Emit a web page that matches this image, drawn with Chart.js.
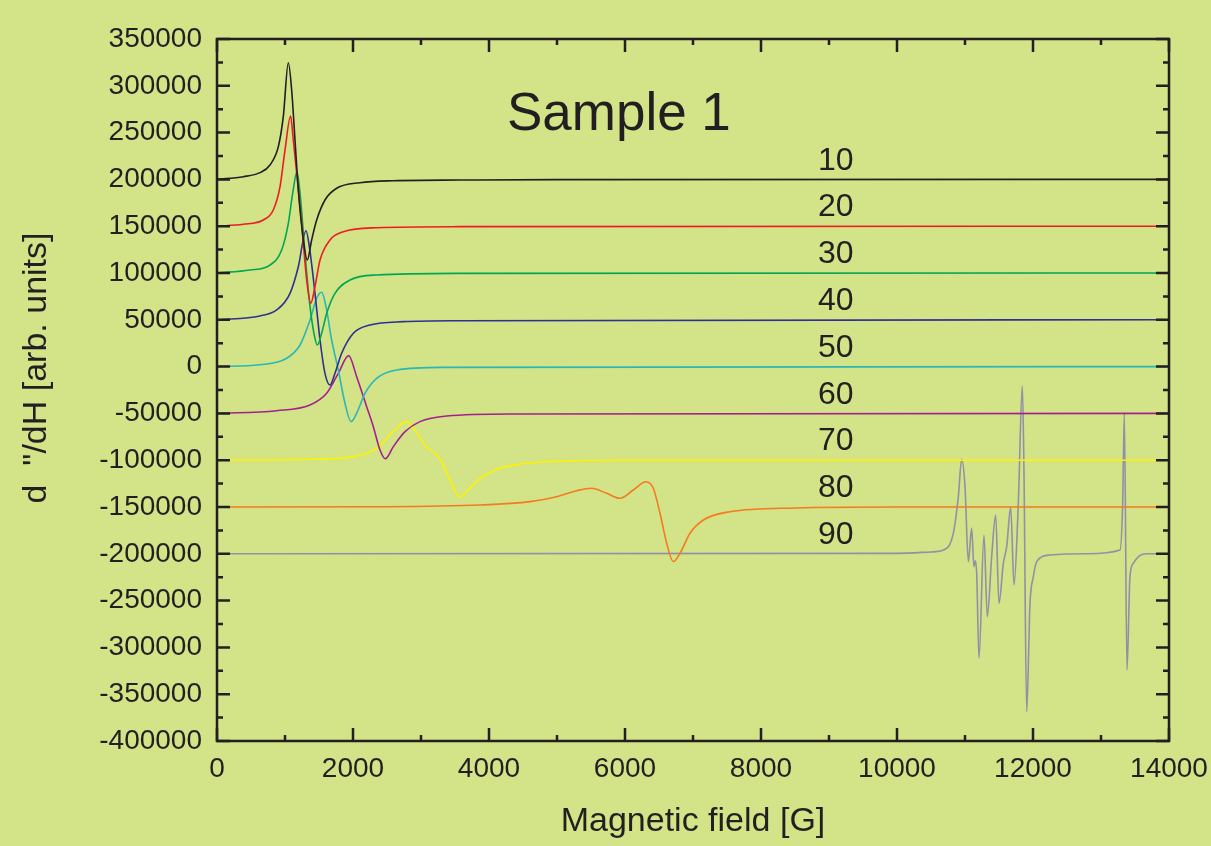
<!DOCTYPE html>
<html>
<head>
<meta charset="utf-8">
<script src="https://cdn.jsdelivr.net/npm/chart.js@4.4.1/dist/chart.umd.min.js"></script>
<style>
  html, body { margin: 0; padding: 0; background: #d3e388; }
  canvas { display: block; }
</style>
</head>
<body>
<canvas id="myChart" width="1211" height="846"></canvas>
<script>
// series names and their baselines (offsets)
const seriesLabels = ['10', '20', '30', '40', '50', '60', '70', '80', '90'];
const baselines = [200000, 150000, 100000, 50000, 0, -50000, -100000, -150000, -200000];

const field10 = [0, 387, 632, 779, 902, 975, 1049, 1098, 1147, 1196, 1270, 1328, 1392, 1466, 1588, 1760, 2103, 2593, 3573, 5000, 14000];
const signal10 = [200100, 202900, 207200, 215400, 235000, 267000, 324700, 295500, 242100, 188700, 135300, 113900, 135300, 156600, 178000, 190500, 196500, 198600, 199300, 199800, 200000];

const field20 = [0, 387, 681, 828, 927, 1000, 1083, 1122, 1172, 1245, 1319, 1378, 1441, 1515, 1662, 1858, 2348, 3573, 14000];
const signal20 = [150000, 152000, 156600, 167300, 192200, 231400, 267700, 242100, 206500, 153100, 92500, 67600, 85400, 113900, 135300, 144100, 148400, 149500, 150000];

const field30 = [0, 485, 779, 951, 1049, 1113, 1176, 1221, 1294, 1368, 1426, 1475, 1539, 1613, 1735, 1956, 2348, 3573, 14000];
const signal30 = [100000, 103200, 108500, 124600, 153100, 185100, 208200, 185100, 121000, 64000, 35600, 23000, 35600, 56900, 78300, 92500, 97900, 99600, 100000];

const field40 = [0, 632, 877, 1074, 1196, 1309, 1358, 1441, 1515, 1588, 1662, 1735, 1833, 2005, 2250, 2740, 3573, 14000];
const signal40 = [50000, 54100, 60500, 78300, 106700, 145200, 128100, 78300, 28400, -7200, -19700, -7200, 14200, 35600, 44400, 48000, 49000, 50000];

const field50 = [0, 632, 1025, 1221, 1368, 1466, 1539, 1603, 1686, 1784, 1882, 1971, 2054, 2176, 2348, 2643, 3328, 14000];
const signal50 = [0, 2000, 8900, 23100, 49800, 73000, 79400, 64000, 28400, -3600, -39200, -58800, -49900, -28500, -12500, -3600, -800, 0];

const field60 = [0, 877, 1368, 1613, 1784, 1936, 2054, 2201, 2299, 2397, 2475, 2593, 2765, 2985, 3378, 4357, 14000];
const signal60 = [-50000, -47100, -41000, -28500, -7200, 11700, -10800, -42800, -64200, -89100, -98500, -85500, -69500, -58800, -52800, -50600, -50000];

const field70 = [0, 1368, 2005, 2348, 2593, 2790, 2930, 3084, 3200, 3300, 3402, 3573, 3721, 3868, 4113, 4456, 5093, 6000, 14000];
const signal70 = [-100000, -99000, -96200, -87300, -69500, -58800, -70000, -86500, -92000, -101000, -117600, -139000, -130000, -119400, -109700, -104100, -100900, -100000, -100000];

const field80 = [0, 2400, 3868, 4603, 4995, 5290, 5510, 5731, 5926, 6122, 6309, 6416, 6515, 6613, 6710, 6809, 6956, 7152, 7544, 8500, 10000, 14000];
const signal80 = [-150000, -149700, -147900, -144300, -139000, -132600, -130000, -135400, -140700, -131800, -123000, -130000, -156700, -188800, -208400, -199500, -178100, -163900, -155000, -151000, -150000, -150000];

const field90 = [0, 10000, 10500, 10681, 10828, 10902, 10951, 11000, 11049, 11098, 11132, 11152, 11172, 11206, 11279, 11328, 11392, 11451, 11500, 11564, 11613, 11672, 11721, 11784, 11843, 11867, 11907, 11956, 12005, 12054, 12250, 12800, 13279, 13319, 13343, 13382, 13426, 13476, 13570, 13672, 14000];
const signal90 = [-200000, -199500, -198000, -196000, -178100, -139000, -99000, -128300, -208400, -172800, -213800, -207400, -220800, -311600, -180000, -267200, -203100, -158500, -252900, -210000, -192400, -150300, -233300, -146100, -20700, -110500, -368700, -252900, -224500, -208400, -201300, -200000, -196000, -145700, -50000, -324000, -224500, -210000, -202000, -200000, -200000];

const fields = [field10, field20, field30, field40, field50, field60, field70, field80, field90];
const signals = [signal10, signal20, signal30, signal40, signal50, signal60, signal70, signal80, signal90];
const colors = ['#231f20', '#ed1c24', '#00a651', '#2e3192', '#2bb7b5', '#a3218e', '#fff200', '#f47b20', '#9090a6'];

const ink = '#231f20';
const fontFamily = "'Liberation Sans', Arial, sans-serif";

// frame with inward ticks, sample title, series labels, y title
const decorations = {
  id: 'decorations',
  afterDatasetsDraw(chart) {
    const { ctx, chartArea: a, scales: { x, y } } = chart;
    ctx.save();
    ctx.strokeStyle = ink;
    ctx.lineWidth = 2.5;
    ctx.strokeRect(a.left, a.top, a.right - a.left, a.bottom - a.top);
    ctx.beginPath();
    for (let v = 0; v <= 14000; v += 1000) {
      const px = x.getPixelForValue(v);
      const len = v % 2000 === 0 ? 13 : 6;
      ctx.moveTo(px, a.bottom); ctx.lineTo(px, a.bottom - len);
      ctx.moveTo(px, a.top); ctx.lineTo(px, a.top + len);
    }
    for (let v = -400000; v <= 350000; v += 25000) {
      const py = y.getPixelForValue(v);
      const len = v % 50000 === 0 ? 13 : 6;
      ctx.moveTo(a.left, py); ctx.lineTo(a.left + len, py);
      ctx.moveTo(a.right, py); ctx.lineTo(a.right - len, py);
    }
    ctx.stroke();

    ctx.fillStyle = ink;
    ctx.textAlign = 'center';
    ctx.textBaseline = 'alphabetic';
    ctx.font = '53px ' + fontFamily;
    ctx.fillText('Sample 1', x.getPixelForValue(5910), y.getPixelForValue(252800));

    ctx.font = '32px ' + fontFamily;
    seriesLabels.forEach((t, i) => {
      ctx.fillText(t, x.getPixelForValue(9100), y.getPixelForValue(baselines[i] + 10500));
    });

    ctx.translate(37, 368);
    ctx.rotate(-Math.PI / 2);
    ctx.textBaseline = 'middle';
    ctx.font = '34px ' + fontFamily;
    ctx.fillText('d  "/dH [arb. units]', 0, 0);
    ctx.restore();
  }
};

const myChartRef = document.getElementById('myChart').getContext('2d');

new Chart(myChartRef, {
  type: 'line',
  data: {
    datasets: seriesLabels.map((label, i) => ({
      label: label,
      data: fields[i].map((f, j) => ({ x: f, y: signals[i][j] })),
      borderColor: colors[i],
      borderWidth: 1.6,
      pointRadius: 0,
      cubicInterpolationMode: 'monotone',
      fill: false
    }))
  },
  plugins: [decorations],
  options: {
    responsive: false,
    animation: false,
    layout: { padding: { top: 39, right: 42, left: 0, bottom: 0 } },
    plugins: {
      legend: { display: false },
      tooltip: { enabled: false }
    },
    scales: {
      x: {
        type: 'linear',
        min: 0,
        max: 14000,
        afterFit: (scale) => {
          scale.height = 105;
          scale.paddingLeft = 0;
          scale.paddingRight = 0;
        },
        ticks: {
          stepSize: 2000,
          padding: 11,
          color: ink,
          font: { family: fontFamily, size: 28 },
          callback: (v) => String(v)
        },
        grid: { display: false, drawTicks: false },
        border: { display: false },
        title: {
          display: true,
          text: 'Magnetic field [G]',
          color: ink,
          font: { family: fontFamily, size: 34 },
          padding: { top: 0, bottom: 4 }
        }
      },
      y: {
        type: 'linear',
        min: -400000,
        max: 350000,
        afterFit: (scale) => {
          scale.width = 217;
          scale.paddingTop = 0;
          scale.paddingBottom = 0;
        },
        ticks: {
          stepSize: 50000,
          padding: 15,
          color: ink,
          font: { family: fontFamily, size: 28 },
          callback: (v) => String(v)
        },
        grid: { display: false, drawTicks: false },
        border: { display: false }
      }
    }
  }
});
</script>
</body>
</html>
